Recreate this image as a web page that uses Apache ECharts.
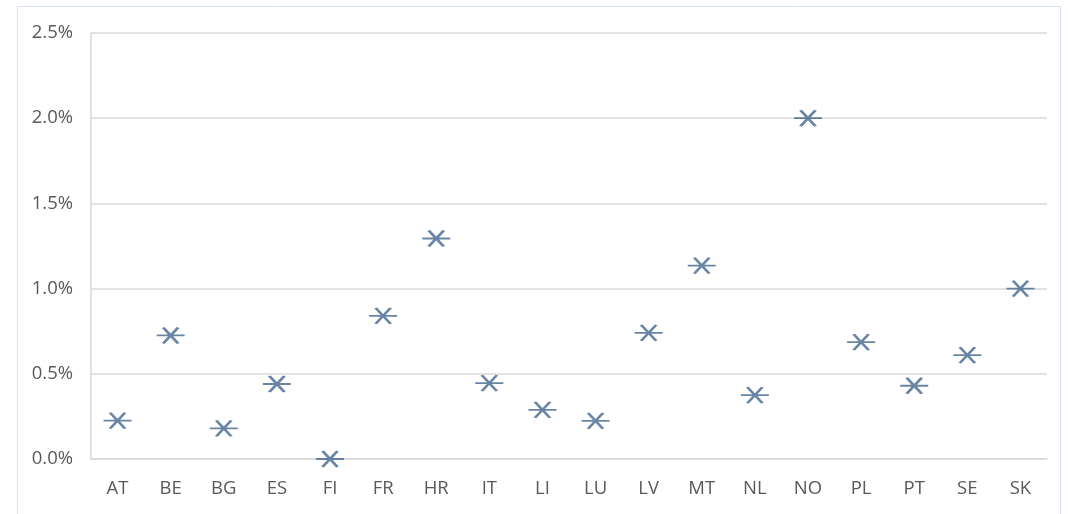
<!DOCTYPE html>
<html>
<head>
<meta charset="utf-8">
<script src="https://cdn.jsdelivr.net/npm/echarts@6/dist/echarts.min.js"></script>
<style>
html,body{margin:0;padding:0;background:#fff;}
#chart{width:1068px;height:514px;}
</style>
</head>
<body>
<div id="chart"></div>
<script>
const categories = ['AT','BE','BG','ES','FI','FR','HR','IT','LI','LU','LV','MT','NL','NO','PL','PT','SE','SK'];
const values = [0.225,0.725,0.18,0.44,0.0,0.84,1.294,0.445,0.288,0.224,0.74,1.135,0.375,2.0,0.686,0.43,0.61,1.0];
const yTicks = [0, 0.5, 1.0, 1.5, 2.0, 2.5];

const chart = echarts.init(document.getElementById('chart'), null, {renderer:'canvas'});
const font = '"Open Sans", "Noto Sans", sans-serif';
chart.setOption({
  animation:false,
  backgroundColor:'#ffffff',
  graphic:[{
    type:'rect', silent:true,
    shape:{x:17.5, y:6.5, width:1043, height:540},
    style:{fill:'none', stroke:'#d6e2f0', lineWidth:1}
  }],
  grid:{left:91, right:21, top:33, bottom:55, containLabel:false},
  xAxis:{
    type:'category',
    data:categories,
    boundaryGap:true,
    axisLine:{show:true, lineStyle:{color:'#d9d9d9', width:1.5}},
    axisTick:{show:false},
    axisLabel:{color:'#595959', fontFamily:font, fontSize:18.5, margin:20},
    splitLine:{show:false}
  },
  yAxis:{
    type:'value',
    min:yTicks[0], max:yTicks[yTicks.length-1], interval:0.5,
    axisLine:{show:true, lineStyle:{color:'#d9d9d9', width:1.5}},
    axisTick:{show:false},
    axisLabel:{color:'#595959', fontFamily:font, fontSize:18.5, margin:18,
      formatter:v => v.toFixed(1) + '%'},
    splitLine:{show:true, lineStyle:{color:'#d9d9d9', width:1.5}}
  },
  series:[{
    type:'scatter',
    data:values,
    symbol:'path://M0,8 L28,8 M6.5,0 L21.5,16 M6.5,16 L21.5,0',
    symbolSize:[28,16],
    itemStyle:{color:'none', borderColor:'#43668e', borderWidth:2.4},
    emphasis:{disabled:true}
  }]
});
</script>
</body>
</html>
